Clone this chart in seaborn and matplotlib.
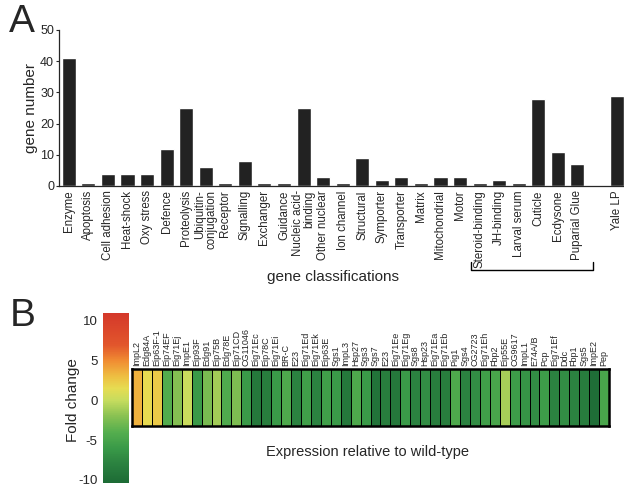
import numpy as np
import matplotlib
matplotlib.use("Agg")
import matplotlib.pyplot as plt
import seaborn as sns
from matplotlib.colors import LinearSegmentedColormap
from matplotlib.transforms import blended_transform_factory

# ---------------- data ----------------
categories = ["Enzyme", "Apoptosis", "Cell adhesion", "Heat-shock", "Oxy stress",
              "Defence", "Proteolysis", "Ubiquitin-\nconjugation", "Receptor",
              "Signalling", "Exchanger", "Guidance", "Nucleic acid-\nbinding",
              "Other nuclear", "Ion channel", "Structural", "Symporter",
              "Transporter", "Matrix", "Mitochondrial", "Motor",
              "Steroid-binding", "JH-binding", "Larval serum", "Cuticle",
              "Ecdysone", "Puparial Glue", " ", "Yale LP"]
gene_counts = [41, 1, 4, 4, 4, 12, 25, 6, 1, 8, 1, 1, 25, 3, 1, 9, 2, 3, 1,
               3, 3, 1, 2, 1, 28, 11, 7, 0, 29]

genes = ["ImpL2", "Edg84A", "Eip63F-1", "Eip74EF", "Eig71Ej", "ImpE1", "Eip93F",
         "Edg91", "Eip75B", "Edg78E", "Eip71CD", "CG11046", "Eig71Ec", "Eip78C",
         "Eig71Ei", "BR-C", "E23", "Eig71Ed", "Eig71Ek", "Eip63E", "Sgs1",
         "ImpL3", "Hsp27", "Sgs3", "Sgs7", "E23", "Eig71Ee", "Eig71Eg", "Sgs8",
         "Hsp23", "Eig71Ea", "Eig71Eb", "Pig1", "Sgs4", "CG2723", "Eig71Eh",
         "Fbp2", "Eip55E", "CG9617", "ImpL1", "E74A/B", "Pcp", "Eig71Ef", "Ddc",
         "Fbp1", "Sgs5", "ImpE2", "Pep"]
fold_change = [3.5, 1.6, 2.4, -4.2, -2.2, 0.2, -6.0, -2.6, -1.2, -4.4, -2.4, -6.0,
               -9.0, -8.5, -6.0, -4.5, -8.0, -5.5, -8.0, -5.5, -6.0, -9.0, -4.5,
               -6.0, -9.5, -8.5, -9.0, -6.0, -8.0, -7.0, -8.5, -8.5, -4.5, -8.0,
               -7.0, -5.5, -4.8, -1.0, -5.8, -6.5, -7.0, -5.8, -8.0, -7.0, -8.0,
               -8.6, -10.0, -4.8]
cbar_ticks = [-10, -5, 0, 5, 10]

# ---------------- style ----------------
sns.set_style("ticks")
plt.rcParams["font.family"] = ["Liberation Sans", "DejaVu Sans"]
plt.rcParams["axes.unicode_minus"] = False

W, H = 624, 486
fig = plt.figure(figsize=(W / 100, H / 100), dpi=100)

# ---------------- panel A ----------------
axA = fig.add_axes([59 / W, 1 - 186 / H, (624 - 59) / W, (186 - 30) / H])
sns.barplot(x=categories, y=gene_counts, color="#222222", saturation=1,
            width=0.72, ax=axA, order=categories)
axA.set_xlim(-0.5, len(categories) - 0.62)
axA.set_ylim(0, 50)
axA.set_yticks([0, 10, 20, 30, 40, 50])
axA.tick_params(axis="y", labelsize=9, length=2, width=0.8, pad=1.5)
axA.tick_params(axis="x", length=0, pad=3)
axA.set_xticks(range(len(categories)))
axA.set_xticklabels(categories, rotation=90, fontsize=8.3, va="top", ha="center",
                    multialignment="right", linespacing=0.95)
axA.set_xlabel("")
axA.set_ylabel("")
for s in ["top", "right"]:
    axA.spines[s].set_visible(False)
for s in ["left", "bottom"]:
    axA.spines[s].set_linewidth(0.9)

trans = blended_transform_factory(axA.transData, axA.transAxes)
i0 = categories.index("Steroid-binding") - 0.44
i1 = categories.index("Puparial Glue") + 0.8
axA.plot([i0, i0, i1, i1], [-0.49, -0.54, -0.54, -0.49], transform=trans,
         clip_on=False, color="black", lw=1)

fig.text(31 / W, 1 - 108 / H, "gene number", rotation=90, ha="center",
         va="center", fontsize=11)
fig.text(333 / W, 1 - 277 / H, "gene classifications", ha="center",
         va="center", fontsize=11)
fig.text(22 / W, 1 - 22 / H, "A", ha="center", va="center", fontsize=28)

# ---------------- panel B ----------------
nodes = [(-10.4, "#1d6b35"), (-8, "#2b8240"), (-6, "#3a9a48"), (-4, "#55ae4e"),
         (-2, "#88c152"), (0, "#c6dc5e"), (1.5, "#e6dc52"), (3, "#eebf42"),
         (5, "#f08c32"), (7, "#e2562c"), (11, "#d4382a")]
vmin, vmax = -10.4, 11
cmap = LinearSegmentedColormap.from_list(
    "fold", [((v - vmin) / (vmax - vmin), c) for v, c in nodes])

axH = fig.add_axes([132 / W, 1 - 426 / H, 477 / W, 57 / H])
axC = fig.add_axes([103 / W, 1 - 483 / H, 26 / W, 170 / H])
sns.heatmap(np.array(fold_change)[None, :], cmap=cmap, vmin=vmin, vmax=vmax,
            linewidths=0.6, linecolor="black", xticklabels=genes,
            yticklabels=False, cbar_ax=axC, ax=axH)
axH.xaxis.tick_top()
axH.set_xticklabels(genes, rotation=90, fontsize=6.5, va="bottom", ha="center")
axH.tick_params(axis="x", length=0, pad=2)
for sp in axH.spines.values():
    sp.set_visible(True)
    sp.set_linewidth(1.8)
    sp.set_color("black")

cbar = axH.collections[0].colorbar
cbar.outline.set_visible(False)
cbar.set_ticks(cbar_ticks)
axC.yaxis.set_ticks_position("left")
axC.tick_params(axis="y", length=0, pad=4, labelsize=9.5)

fig.text(73 / W, 1 - 400 / H, "Fold change", rotation=90, ha="center",
         va="center", fontsize=11)
fig.text(367 / W, 1 - 452 / H, "Expression relative to wild-type", ha="center",
         va="center", fontsize=10.5)
fig.text(23 / W, 1 - 316 / H, "B", ha="center", va="center", fontsize=28)

fig.savefig("out.png", dpi=100)
